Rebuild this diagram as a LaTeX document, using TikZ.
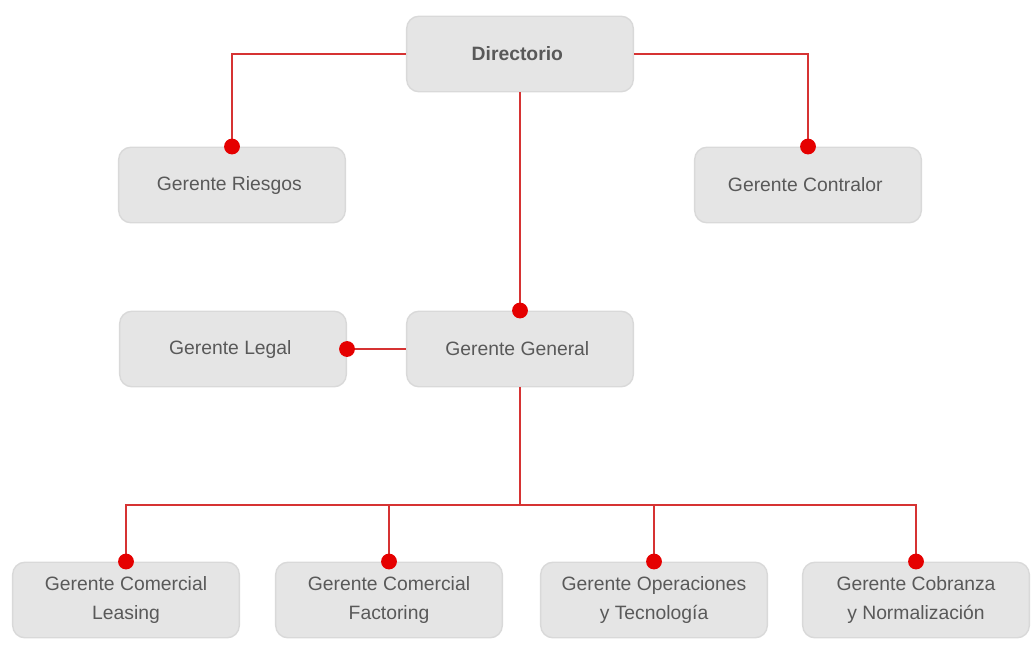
\documentclass[tikz,border=0pt]{standalone}
\usepackage{fontspec}
\setmainfont{Liberation Sans}

\begin{document}
\begin{tikzpicture}[x=0.02cm, y=-0.02cm,
boxnode/.style={rectangle, rounded corners=7pt, draw=black!15, fill=black!10, line width=0.8pt, minimum width=129pt, minimum height=43pt, align=center, text=black!65, font=\fontsize{11}{16}\selectfont},
dotnode/.style={circle, fill=red!90!black, minimum size=9pt, inner sep=0pt},
link/.style={draw=red!80!black!80, line width=0.7pt}
]
    \useasboundingbox (0,0) rectangle (1033,646);

    \node [boxnode] (dir) at (520,54) { \textbf{Directorio} };

    \node [boxnode] (riesgos) at (232,185) { Gerente Riesgos };
    \node [boxnode] (contralor) at (808,185) { Gerente Contralor };

    \node [boxnode] (gral) at (520,349) { Gerente General };
    \node [boxnode] (legal) at (233,349) { Gerente Legal };

    \node [boxnode] (leasing) at (126,600) { Gerente Comercial\\Leasing };
    \node [boxnode] (factoring) at (389,600) { Gerente Comercial\\Factoring };
    \node [boxnode] (oper) at (654,600) { Gerente Operaciones\\y Tecnolog\'ia };
    \node [boxnode] (cobranza) at (916,600) { Gerente Cobranza\\y Normalizaci\'on };

    \coordinate (split) at (520,505);

    \draw [link] (dir.west) -| (riesgos.north);
    \draw [link] (dir.east) -| (contralor.north);
    \draw [link] (dir.south) -- (gral.north);
    \draw [link] (gral.west) -- (legal.east);

    \draw [link] (gral.south) -- (split);
    \draw [link] (split) -| (leasing.north);
    \draw [link] (split) -| (factoring.north);
    \draw [link] (split) -| (oper.north);
    \draw [link] (split) -| (cobranza.north);

    \node [dotnode] (d1) at (riesgos.north) {};
    \node [dotnode] (d2) at (contralor.north) {};
    \node [dotnode] (d3) at (gral.north) {};
    \node [dotnode] (d4) at (legal.east) {};
    \node [dotnode] (d5) at (leasing.north) {};
    \node [dotnode] (d6) at (factoring.north) {};
    \node [dotnode] (d7) at (oper.north) {};
    \node [dotnode] (d8) at (cobranza.north) {};
\end{tikzpicture}
\end{document}
